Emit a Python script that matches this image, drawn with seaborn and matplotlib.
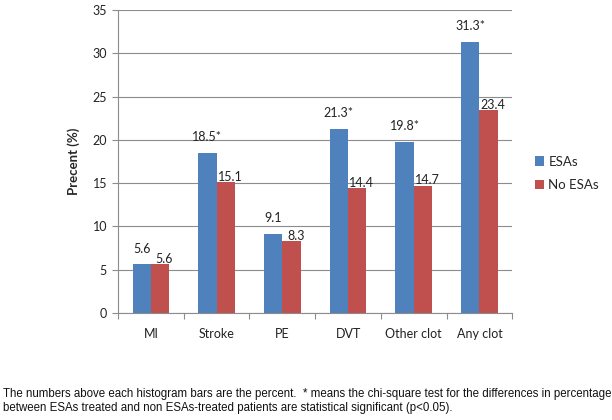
import matplotlib
matplotlib.use("Agg")
import matplotlib.pyplot as plt
import seaborn as sns
import pandas as pd

categories = ["MI", "Stroke", "PE", "DVT", "Other clot", "Any clot"]
esas = [5.6, 18.5, 9.1, 21.3, 19.8, 31.3]
no_esas = [5.6, 15.1, 8.3, 14.4, 14.7, 23.4]
esas_labels = ["5.6", "18.5*", "9.1", "21.3*", "19.8*", "31.3*"]
no_esas_labels = ["5.6", "15.1", "8.3", "14.4", "14.7", "23.4"]
series = ["ESAs", "No ESAs"]
yticks = [0, 5, 10, 15, 20, 25, 30, 35]

sns.set_theme(style="white")
plt.rcParams['font.family'] = ['Lato', 'DejaVu Sans']

df = pd.DataFrame({
    "cat": categories * 2,
    "val": esas + no_esas,
    "series": [series[0]] * len(categories) + [series[1]] * len(categories),
})

fig = plt.figure(figsize=(6.12, 4.2), dpi=100)
ax = fig.add_axes([0.193, 0.255, 0.644, 0.721])
sns.barplot(data=df, x="cat", y="val", hue="series", order=categories,
            hue_order=series, palette=["#4F81BD", "#C0504D"], width=0.56,
            saturation=1, ax=ax, legend=True, edgecolor="none", linewidth=0)

ax.set_ylim(0, 35)
ax.set_xlim(-0.5, len(categories) - 0.5)
ax.set_yticks(yticks)
ax.set_yticklabels([str(t) for t in yticks], fontsize=9, color="#222222")
ax.set_xticks(range(len(categories)))
ax.set_xticklabels(categories, fontsize=9, color="#222222")
ax.set_xticks([i - 0.5 for i in range(len(categories) + 1)], minor=True)
ax.tick_params(axis="x", which="major", length=0, pad=11)
ax.tick_params(axis="x", which="minor", length=4, color="#8c8c8c", width=0.8, bottom=True)
ax.tick_params(axis="y", which="major", length=4, color="#8c8c8c", width=0.8, left=True, pad=4)
ax.yaxis.grid(True, color="#8c8c8c", linewidth=0.8)
ax.set_axisbelow(True)
for s in ["top", "right"]:
    ax.spines[s].set_visible(False)
for s in ["left", "bottom"]:
    ax.spines[s].set_color("#8c8c8c")
    ax.spines[s].set_linewidth(0.8)
ax.set_xlabel("")
ax.set_ylabel("Precent (%)", fontsize=9.5, fontweight="bold", labelpad=9)

containers = ax.containers
for bar, lab in zip(containers[0], esas_labels):
    ax.annotate(lab, (bar.get_x() + bar.get_width() / 2, bar.get_height()),
                xytext=(0, 7), textcoords="offset points", ha="center",
                va="bottom", fontsize=9, color="#222222")
for bar, lab in zip(containers[1], no_esas_labels):
    ax.annotate(lab, (bar.get_x() + bar.get_width() / 2, bar.get_height()),
                xytext=(3, 4), textcoords="offset points", ha="center",
                va="center", fontsize=9, color="#222222")

leg = ax.legend(loc="center left", bbox_to_anchor=(0.855, 0.587),
                bbox_transform=fig.transFigure, frameon=False, fontsize=9.5,
                handlelength=0.7, handleheight=0.7, handletextpad=0.3,
                labelspacing=0.9)

foot_font = ['Liberation Sans', 'DejaVu Sans']
fig.text(0.005, 0.062, "The numbers above each histogram bars are the percent.  * means the chi-square test for the differences in percentage",
         fontsize=8.3, family=foot_font, color="#111111", va="center")
fig.text(0.005, 0.029, "between ESAs treated and non ESAs-treated patients are statistical significant (p<0.05).",
         fontsize=8.3, family=foot_font, color="#111111", va="center")

fig.savefig("out.png", dpi=100)
